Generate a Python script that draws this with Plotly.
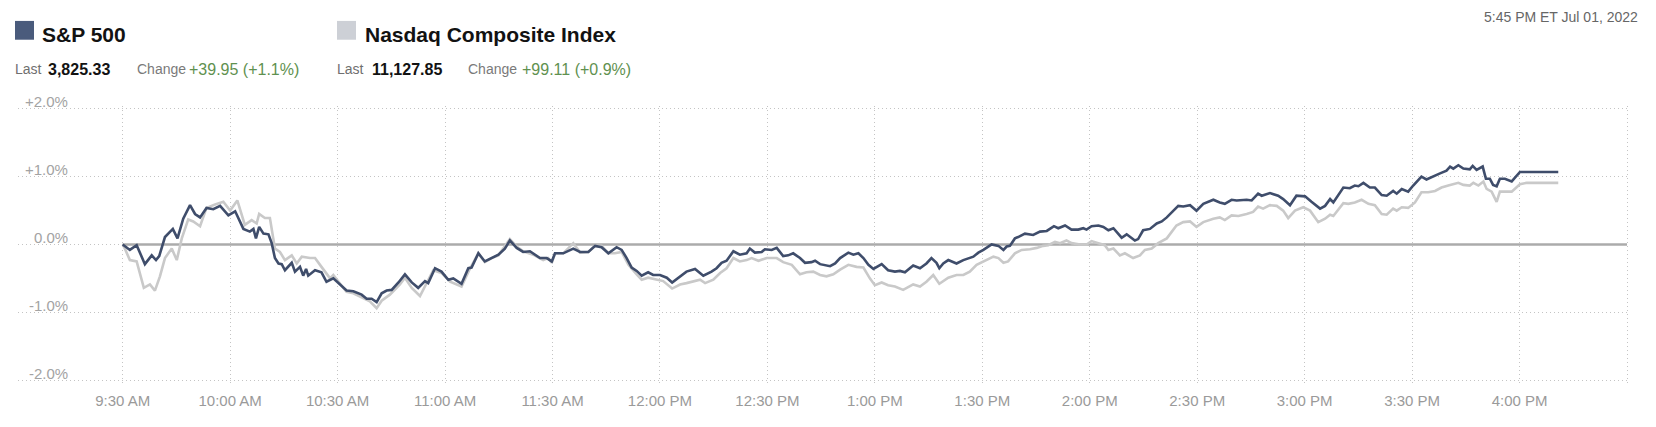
import numpy as np
import pandas as pd
import plotly.graph_objects as go

# ---------------- data (minutes after 9:30 AM, % change) ----------------
sp_minutes = [0, 2.0, 3.9, 6.2, 8.1, 9.3, 10.2, 11.8, 14.0, 15.3, 16.9, 18.8, 20.2, 21.6, 23.4, 25.3, 27.2, 29.5, 31.4,
              33.7, 35.5, 36.5, 37.2, 38.1, 39.3, 40.7, 41.6, 42.5, 43.5, 44.4, 45.3, 47.2, 48.1, 49.5, 50.4, 51.2, 51.8,
              53.7, 55.5, 56.9, 58.8, 60.7, 62.5, 64.4, 66.7, 68.1, 69.5, 70.9, 72.3, 73.7, 75.1, 77.0, 78.8, 80.7, 82.5,
              84.4, 85.3, 87.2, 89.0, 90.9, 92.3, 94.6, 96.5, 97.4, 99.3, 101.1, 103.0, 104.9, 106.7, 108.1, 110.0, 111.8,
              113.7, 116.5, 118.4, 119.8, 120.7, 123.0, 125.8, 127.7, 130.0, 131.9, 133.7, 135.6, 137.9, 139.3, 140.7,
              142.1, 143.5, 144.9, 146.7, 148.1, 150.0, 151.9, 153.4, 154.7, 156.1, 157.4, 159.8, 162.1, 164.4, 165.8,
              167.2, 168.6, 170.5, 172.3, 174.2, 175.1, 176.5, 178.4, 179.3, 181.2, 182.6, 184.4, 185.8, 187.2, 189.1,
              190.5, 192.3, 193.3, 194.7, 196.1, 197.5, 198.9, 200.3, 202.6, 204.0, 205.4, 206.8, 208.2, 209.6, 211.9,
              213.7, 215.6, 217.0, 218.4, 220.7, 222.6, 224.4, 225.8, 227.2, 228.0, 229.1, 230.5, 232.8, 234.7, 236.1,
              237.5, 238.9, 240.3, 242.6, 244.5, 245.9, 246.8, 247.7, 249.1, 250.0, 251.9, 254.2, 256.1, 258.0, 260.0,
              261.2, 263.1, 264.9, 266.8, 268.2, 269.1, 270.5, 272.4, 273.8, 275.2, 276.6, 278.0, 278.9, 280.3, 282.6,
              283.5, 284.9, 286.8, 288.7, 290.1, 291.5, 294.7, 296.1, 298.0, 299.8, 301.7, 304.5, 306.3, 307.7, 309.6,
              311.0, 313.8, 315.2, 317.0, 318.0, 320.3, 322.6, 324.0, 325.9, 327.7, 330.1, 331.9, 334.3, 335.7, 337.1,
              338.0, 340.8, 342.6, 344.0, 345.0, 346.4, 348.2, 349.6, 351.5, 352.9, 354.7, 355.7, 357.1, 358.9, 360.3,
              362.6, 364.0, 365.9, 367.8, 369.6, 370.6, 371.5, 372.9, 374.3, 376.1, 376.9, 378.0, 379.7, 380.6, 381.7,
              382.6, 383.6, 384.5, 385.9, 387.8, 390.1, 393.8, 400.8]
sp_values = [0.00, -0.08, -0.01, -0.29, -0.16, -0.23, -0.17, 0.11, 0.23, 0.09, 0.38, 0.58, 0.45, 0.40, 0.54, 0.52, 0.57,
             0.43, 0.49, 0.23, 0.19, 0.23, 0.09, 0.26, 0.16, 0.15, 0.02, -0.20, -0.28, -0.29, -0.38, -0.27, -0.40, -0.33,
             -0.46, -0.36, -0.46, -0.38, -0.41, -0.55, -0.50, -0.59, -0.68, -0.69, -0.74, -0.80, -0.80, -0.85, -0.72,
             -0.68, -0.67, -0.56, -0.44, -0.56, -0.64, -0.54, -0.57, -0.35, -0.40, -0.52, -0.50, -0.58, -0.35, -0.34,
             -0.13, -0.25, -0.20, -0.15, -0.06, 0.06, -0.05, -0.11, -0.10, -0.20, -0.20, -0.25, -0.13, -0.13, -0.06,
             -0.11, -0.11, -0.02, -0.04, -0.13, -0.04, -0.08, -0.20, -0.34, -0.39, -0.46, -0.41, -0.45, -0.45, -0.49,
             -0.56, -0.51, -0.45, -0.40, -0.36, -0.46, -0.40, -0.35, -0.27, -0.24, -0.10, -0.15, -0.13, -0.06, -0.12,
             -0.11, -0.07, -0.08, -0.05, -0.17, -0.16, -0.13, -0.20, -0.27, -0.26, -0.24, -0.29, -0.31, -0.32, -0.28,
             -0.20, -0.12, -0.15, -0.13, -0.20, -0.30, -0.36, -0.29, -0.38, -0.40, -0.39, -0.41, -0.31, -0.35, -0.28,
             -0.20, -0.27, -0.35, -0.28, -0.23, -0.28, -0.23, -0.20, -0.18, -0.12, -0.08, 0.00, -0.02, -0.08, -0.03,
             -0.02, 0.09, 0.11, 0.16, 0.14, 0.19, 0.20, 0.27, 0.24, 0.28, 0.22, 0.22, 0.24, 0.22, 0.27, 0.28, 0.26, 0.21,
             0.24, 0.15, 0.10, 0.15, 0.06, 0.08, 0.21, 0.23, 0.31, 0.34, 0.40, 0.57, 0.56, 0.58, 0.50, 0.60, 0.66, 0.62,
             0.60, 0.66, 0.65, 0.66, 0.65, 0.75, 0.72, 0.76, 0.72, 0.67, 0.58, 0.72, 0.71, 0.63, 0.53, 0.57, 0.67, 0.62,
             0.84, 0.83, 0.87, 0.86, 0.91, 0.84, 0.84, 0.73, 0.72, 0.79, 0.75, 0.82, 0.78, 0.87, 1.00, 0.96, 1.00, 1.05,
             1.09, 1.15, 1.12, 1.17, 1.12, 1.11, 1.16, 1.10, 1.15, 0.97, 0.97, 0.88, 0.86, 0.97, 0.97, 0.93, 1.07, 1.07,
             1.07]

nq_minutes = [0, 0.6, 2.0, 3.9, 5.9, 7.6, 9.0, 10.4, 11.8, 13.7, 15.1, 16.5, 18.3, 19.7, 21.6, 23.4, 25.8, 28.1, 30.0,
              32.0, 34.1, 36.0, 37.4, 38.1, 39.7, 41.1, 42.5, 43.9, 45.3, 47.2, 48.6, 50.0, 52.3, 53.7, 55.5, 57.9, 58.8,
              60.7, 62.5, 64.4, 67.2, 69.0, 70.9, 72.3, 74.6, 77.4, 78.8, 80.7, 83.0, 84.9, 86.7, 89.0, 91.4, 94.6, 97.0,
              99.3, 101.1, 103.0, 104.9, 108.1, 110.0, 111.8, 114.6, 117.4, 118.8, 119.8, 120.7, 123.0, 125.8, 127.7,
              130.0, 131.9, 133.7, 135.6, 137.4, 139.3, 141.2, 143.5, 144.9, 146.7, 148.6, 150.9, 153.4, 155.6, 157.4,
              159.8, 161.2, 162.6, 164.9, 166.8, 168.6, 170.5, 172.3, 174.2, 175.6, 177.5, 179.8, 182.6, 184.4, 186.8,
              189.1, 190.9, 192.8, 194.7, 196.5, 198.4, 200.3, 202.6, 204.9, 206.8, 208.6, 210.0, 211.9, 213.7, 215.6,
              217.9, 220.7, 222.6, 224.4, 226.3, 228.0, 230.5, 232.8, 234.7, 236.5, 238.4, 241.2, 243.1, 244.5, 245.9,
              247.2, 249.1, 251.0, 253.3, 255.2, 257.0, 258.4, 260.3, 261.7, 263.5, 264.9, 267.3, 269.1, 270.5, 272.4,
              274.2, 275.2, 276.6, 278.4, 279.8, 282.1, 284.0, 285.4, 287.3, 289.1, 291.5, 294.2, 296.1, 298.0, 299.8,
              301.7, 304.5, 306.3, 307.7, 309.6, 311.5, 313.8, 315.6, 317.0, 318.4, 320.3, 322.2, 324.0, 325.4, 327.3,
              329.6, 331.5, 333.8, 335.7, 337.1, 338.0, 340.8, 342.2, 344.0, 345.9, 347.8, 349.6, 351.5, 352.9, 354.7,
              355.7, 357.1, 358.9, 360.8, 362.6, 364.5, 366.4, 368.2, 370.1, 371.5, 372.9, 374.3, 376.1, 377.1, 378.5,
              379.9, 380.8, 382.2, 383.6, 384.5, 386.4, 387.8, 390.1, 392.0, 400.8]
nq_values = [0.00, -0.06, -0.23, -0.25, -0.64, -0.59, -0.68, -0.47, -0.20, -0.06, -0.23, 0.09, 0.37, 0.34, 0.27, 0.54,
             0.59, 0.63, 0.50, 0.65, 0.29, 0.36, 0.31, 0.45, 0.39, 0.39, -0.06, -0.11, -0.23, -0.16, -0.28, -0.18, -0.20,
             -0.20, -0.33, -0.50, -0.45, -0.57, -0.70, -0.72, -0.79, -0.84, -0.94, -0.83, -0.74, -0.59, -0.49, -0.64,
             -0.76, -0.57, -0.38, -0.42, -0.55, -0.62, -0.35, -0.13, -0.26, -0.20, -0.16, 0.08, -0.03, -0.10, -0.15,
             -0.23, -0.20, -0.27, -0.13, -0.13, 0.02, -0.12, -0.11, -0.02, -0.02, -0.13, -0.13, -0.11, -0.30, -0.44,
             -0.52, -0.49, -0.51, -0.54, -0.65, -0.59, -0.57, -0.54, -0.52, -0.57, -0.52, -0.42, -0.35, -0.20, -0.25,
             -0.23, -0.20, -0.24, -0.20, -0.20, -0.26, -0.30, -0.44, -0.41, -0.40, -0.45, -0.47, -0.44, -0.37, -0.30,
             -0.33, -0.34, -0.50, -0.60, -0.56, -0.60, -0.62, -0.67, -0.59, -0.62, -0.55, -0.45, -0.58, -0.49, -0.45,
             -0.45, -0.40, -0.30, -0.23, -0.18, -0.20, -0.27, -0.25, -0.13, -0.08, -0.07, -0.05, -0.02, -0.01, 0.04,
             0.02, 0.06, 0.02, 0.00, 0.00, 0.05, 0.02, -0.01, -0.08, -0.06, -0.16, -0.13, -0.20, -0.16, -0.08, -0.06,
             0.02, 0.09, 0.28, 0.33, 0.34, 0.26, 0.33, 0.38, 0.40, 0.36, 0.43, 0.42, 0.45, 0.48, 0.56, 0.53, 0.58, 0.57,
             0.50, 0.39, 0.50, 0.55, 0.50, 0.33, 0.38, 0.44, 0.42, 0.61, 0.60, 0.62, 0.66, 0.60, 0.58, 0.45, 0.44, 0.53,
             0.50, 0.55, 0.54, 0.62, 0.77, 0.77, 0.79, 0.84, 0.87, 0.89, 0.91, 0.88, 0.87, 0.91, 0.87, 0.93, 0.82, 0.78,
             0.63, 0.78, 0.78, 0.78, 0.89, 0.91, 0.91]

x_tick_minutes = [0, 30, 60, 90, 120, 150, 180, 210, 240, 270, 300, 330, 360, 390, 420]
x_tick_labels = ["9:30 AM", "10:00 AM", "10:30 AM", "11:00 AM", "11:30 AM", "12:00 PM", "12:30 PM", "1:00 PM",
                 "1:30 PM", "2:00 PM", "2:30 PM", "3:00 PM", "3:30 PM", "4:00 PM", ""]
y_tick_values = [-2, -1, 0, 1, 2]
y_tick_labels = ["-2.0%", "-1.0%", "0.0%", "+1.0%", "+2.0%"]

series_names = ["S&P 500", "Nasdaq Composite Index"]
last_values = ["3,825.33", "11,127.85"]
change_texts = ["+39.95 (+1.1%)", "+99.11 (+0.9%)"]
timestamp_text = "5:45 PM ET Jul 01, 2022"

# ---------------- styling / layout ----------------
OFF = 8                      # default page body margin
W, H = 1640, 411             # figure size (fits inside the page margins)
ML, MR, MT, MB = 10, 19, 98, 33
PW, PH = W - ML - MR, H - MT - MB
FONT = "Liberation Sans, Arial, sans-serif"
SP_COLOR = "#3f4d6b"
SP_SWATCH = "#4a5b7c"
NQ_COLOR = "#c9c9c9"
NQ_SWATCH = "#cdd0d6"
GRID = "#c4c4c4"

base = pd.Timestamp("2022-07-01 09:30:00")


def t(minutes):
    return base + pd.to_timedelta(np.asarray(minutes, dtype=float), unit="m")


def px(x):  # page pixel -> paper x
    return (x - OFF - ML) / PW


def py(y):  # page pixel -> paper y
    return (H - MB - (y - OFF)) / PH


fig = go.Figure()
fig.add_trace(go.Scatter(x=t(nq_minutes), y=nq_values, mode="lines", name=series_names[1],
                         line=dict(color=NQ_COLOR, width=2.6), hoverinfo="skip"))
fig.add_trace(go.Scatter(x=t(sp_minutes), y=sp_values, mode="lines", name=series_names[0],
                         line=dict(color=SP_COLOR, width=2.6), hoverinfo="skip"))

# zero baseline
fig.add_shape(type="line", xref="x", yref="y", x0=t(x_tick_minutes[0]), x1=t(x_tick_minutes[-1]), y0=0, y1=0,
              line=dict(color="#ababab", width=2.5), layer="between")

# legend swatches
for x0, color in [(15, SP_SWATCH), (337, NQ_SWATCH)]:
    fig.add_shape(type="rect", xref="paper", yref="paper", x0=px(x0), x1=px(x0 + 19), y0=py(39), y1=py(20),
                  fillcolor=color, line=dict(width=0), layer="above")

ann = []
# series titles
for xl, name in [(40, series_names[0]), (363, series_names[1])]:
    ann.append(dict(x=px(xl), y=py(34), text="<b>" + name + "</b>", xanchor="left", yanchor="middle",
                    font=dict(size=21, color="#121212", family=FONT)))
# Last / Change rows
row_y = py(69)
for (xl, xv, xc, xg), lv, ch in zip([(13, 46, 135, 187), (335, 370, 466, 520)], last_values, change_texts):
    ann.append(dict(x=px(xl), y=row_y, text="Last", xanchor="left", yanchor="middle",
                    font=dict(size=14, color="#6f6f6f", family=FONT)))
    ann.append(dict(x=px(xv), y=row_y, text="<b>" + lv + "</b>", xanchor="left", yanchor="middle",
                    font=dict(size=16, color="#121212", family=FONT)))
    ann.append(dict(x=px(xc), y=row_y, text="Change", xanchor="left", yanchor="middle",
                    font=dict(size=14, color="#7a7a7a", family=FONT)))
    ann.append(dict(x=px(xg), y=row_y, text=ch, xanchor="left", yanchor="middle",
                    font=dict(size=16, color="#5f9150", family=FONT)))
# timestamp
ann.append(dict(x=px(1640), y=py(16), text=timestamp_text, xanchor="right", yanchor="middle",
                font=dict(size=14, color="#666666", family=FONT)))
# y tick labels (sitting above the gridlines)
for v, lab in zip(y_tick_values, y_tick_labels):
    ann.append(dict(xref="paper", yref="y", x=px(70), y=v, text=lab, xanchor="right", yanchor="middle",
                    yshift=7, font=dict(size=15, color="#a3a3a3", family=FONT)))
for a in ann:
    a.setdefault("xref", "paper")
    a.setdefault("yref", "paper")
    a["showarrow"] = False

x_start = base - pd.Timedelta(minutes=29.23)
x_end = base + pd.Timedelta(minutes=420.55)

fig.update_layout(
    width=W, height=H,
    margin=dict(l=ML, r=MR, t=MT, b=MB, pad=0),
    paper_bgcolor="white", plot_bgcolor="white",
    showlegend=False,
    font=dict(family=FONT),
    annotations=ann,
    xaxis=dict(type="date", range=[x_start, x_end], tickmode="array", tickvals=t(x_tick_minutes),
               ticktext=x_tick_labels, showgrid=True, gridcolor=GRID, griddash="1px,3px", gridwidth=1,
               zeroline=False, showline=False, ticks="", ticklabelstandoff=7,
               tickfont=dict(size=15, color="#9a9a9a", family=FONT)),
    yaxis=dict(range=[-2.0437, 2.0437], tickmode="array", tickvals=y_tick_values, showticklabels=False,
               showgrid=True, gridcolor=GRID, griddash="1px,3px", gridwidth=1, zeroline=False, showline=False,
               ticks=""),
)

fig.write_html("out.html")
